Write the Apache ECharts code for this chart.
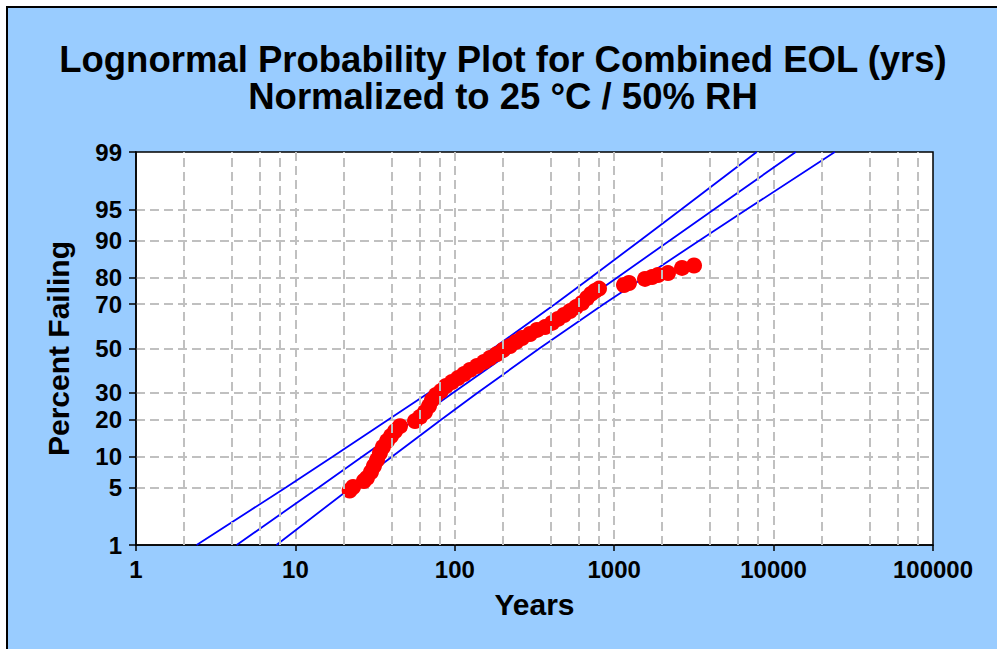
<!DOCTYPE html>
<html><head><meta charset="utf-8">
<script src="https://cdn.jsdelivr.net/npm/echarts@6/dist/echarts.min.js"></script>
<style>
html,body{margin:0;padding:0;background:#fff;width:997px;height:649px;overflow:hidden}
#frame{position:absolute;left:6px;top:6px;width:1000px;height:700px;background:#99CCFF;border:2px solid #000;}
#chart{position:absolute;left:0;top:0;width:997px;height:649px}
</style></head><body><div id="frame"></div><div id="chart"></div>
<script>
const TITLE_LINE1 = 'Lognormal Probability Plot for Combined EOL (yrs)';
const TITLE_LINE2 = 'Normalized to 25 °C / 50% RH';
const X_NAME = 'Years';
const Y_NAME = 'Percent Failing';
const X_MINOR = [2,4,6,8,20,40,60,80,200,400,600,800,2000,4000,6000,8000,20000,40000,60000,80000];
const Y_TICKS = [1,5,10,20,30,50,70,80,90,95,99];

// fitted line and confidence bounds, read at the percent grid levels
const LINE_PCT = [1,5,10,20,30,50,70,80,90,95,99];
const FIT_YEARS = [4.28,14.0,26.2,56.3,97.6,243,603,1046,2244,4219,13770];
const UPPER_YEARS = [2.40,8.71,17.1,38.4,68.7,174,424,714,1462,2630,7834];
const LOWER_YEARS = [7.60,22.4,40.3,82.4,139,339,857,1535,3443,6761,24210];

// observed failures
const FAIL_YEARS = [21.9,23.0,26.9,28.1,29.8,31.1,32.5,33.9,35.4,37.6,39.8,42.2,45.3,56.3,60.5,65.0,68.9,71.9,76.2,81.9,88.1,96.0,104.7,114.2,124.6,137.8,152.5,166.3,184.0,200.6,222.0,242.1,264.0,296.4,327.9,368.0,407.2,444.0,484.2,528.1,576.0,628.1,675.1,715.3,757.9,802.9,1152,1238,1561,1726,1883,2175,2663,3167];
const FAIL_PCT = [4.64,5.06,5.84,6.27,7.19,8.21,9.34,10.8,12.2,13.7,15.0,16.4,17.9,19.5,20.9,22.6,24.8,27.1,29.1,30.7,32.9,34.6,36.3,38.1,40.0,41.8,43.7,45.5,47.4,49.3,51.2,53.1,54.9,56.8,58.7,60.0,61.9,63.7,65.4,67.1,68.8,70.5,72.5,74.1,75.2,76.1,77.4,78.1,79.5,80.1,80.8,81.4,83.0,83.7];

// normal probability scale (inverse normal CDF, Acklam)
function probit(p){
  const a=[-3.969683028665376e+01,2.209460984245205e+02,-2.759285104469687e+02,1.383577518672690e+02,-3.066479806614716e+01,2.506628277459239e+00];
  const b=[-5.447609879822406e+01,1.615858368580409e+02,-1.556989798598866e+02,6.680131188771972e+01,-1.328068155288572e+01];
  const c=[-7.784894002430293e-03,-3.223964580411365e-01,-2.400758277161838e+00,-2.549671348874914e+00,4.374664141464968e+00,2.938163982698783e+00];
  const d=[7.784695709041462e-03,3.224671290700398e-01,2.445134137142996e+00,3.754408661907416e+00];
  const pl=0.02425, ph=1-pl; let q,r;
  if(p<pl){q=Math.sqrt(-2*Math.log(p));return (((((c[0]*q+c[1])*q+c[2])*q+c[3])*q+c[4])*q+c[5])/((((d[0]*q+d[1])*q+d[2])*q+d[3])*q+1);}
  if(p<=ph){q=p-0.5;r=q*q;return (((((a[0]*r+a[1])*r+a[2])*r+a[3])*r+a[4])*r+a[5])*q/(((((b[0]*r+b[1])*r+b[2])*r+b[3])*r+b[4])*r+1);}
  q=Math.sqrt(-2*Math.log(1-p));return -(((((c[0]*q+c[1])*q+c[2])*q+c[3])*q+c[4])*q+c[5])/((((d[0]*q+d[1])*q+d[2])*q+d[3])*q+1);
}
const zOf = pct => probit(pct/100);
const Y_TICK_Z = Y_TICKS.map(zOf);
const yLabel = v => { let bi=0, bd=1e9; Y_TICK_Z.forEach((z,i)=>{const dd=Math.abs(z-v); if(dd<bd){bd=dd;bi=i;}}); return String(Y_TICKS[bi]); };

const FONT = "'Liberation Sans', Arial, sans-serif";
const GRID_LINE = {color:'#C0C0C0', type:[9,5], width:2};

const chart = echarts.init(document.getElementById('chart'), null, {renderer:'svg'});
chart.setOption({
  backgroundColor:'transparent',
  animation:false,
  title:{
    text: TITLE_LINE1 + '\n' + TITLE_LINE2,
    left: 503, top: 41, padding: 0, textAlign:'center',
    textStyle:{fontFamily:FONT, fontSize:36.5, fontWeight:'bold', color:'#000', lineHeight:37}
  },
  grid:{left:136, top:152, width:797, height:393, show:true, backgroundColor:'#fff', borderColor:'#000', borderWidth:1.5, containLabel:false},
  xAxis:{
    type:'log', logBase:10, min:1, max:100000,
    name:X_NAME, nameLocation:'middle', nameGap:44,
    nameTextStyle:{fontFamily:FONT, fontSize:30, fontWeight:'bold', color:'#000'},
    axisLine:{onZero:false, lineStyle:{color:'#000', width:1.5}},
    axisTick:{show:true, length:6, lineStyle:{color:'#000', width:1.5}},
    axisLabel:{margin:12, fontFamily:FONT, fontSize:24, fontWeight:'bold', color:'#000', formatter:v=>String(Math.round(v))},
    splitLine:{show:true, showMinLine:false, showMaxLine:false, lineStyle:GRID_LINE},
    minorTick:{show:false}, minorSplitLine:{show:false}
  },
  yAxis:{
    type:'value', min:zOf(1), max:zOf(99),
    name:Y_NAME, nameLocation:'middle', nameGap:63, nameRotate:90,
    nameTextStyle:{fontFamily:FONT, fontSize:30, fontWeight:'bold', color:'#000'},
    axisLine:{show:true, onZero:false, lineStyle:{color:'#000', width:1.5}},
    axisTick:{show:true, length:7, customValues:Y_TICK_Z, lineStyle:{color:'#000', width:1.5}},
    axisLabel:{margin:14, customValues:Y_TICK_Z, fontFamily:FONT, fontSize:24, fontWeight:'bold', color:'#000', formatter:yLabel},
    splitLine:{show:true, showMinLine:false, showMaxLine:false, lineStyle:GRID_LINE}
  },
  series:[
    {type:'line', name:'grid', data:[], z:1, silent:true,
     markLine:{silent:true, symbol:['none','none'], label:{show:false}, lineStyle:GRID_LINE, animation:false,
       emphasis:{disabled:true}, data:X_MINOR.map(v=>({xAxis:v}))}},
    {type:'line', name:'Upper bound', data:LINE_PCT.map((p,i)=>[UPPER_YEARS[i], zOf(p)]), showSymbol:false, symbol:'none', z:3,
     lineStyle:{color:'#0000FF', width:1.8}},
    {type:'line', name:'Fit', data:LINE_PCT.map((p,i)=>[FIT_YEARS[i], zOf(p)]), showSymbol:false, symbol:'none', z:3,
     lineStyle:{color:'#0000FF', width:1.8}},
    {type:'line', name:'Lower bound', data:LINE_PCT.map((p,i)=>[LOWER_YEARS[i], zOf(p)]), showSymbol:false, symbol:'none', z:3,
     lineStyle:{color:'#0000FF', width:1.8}},
    {type:'scatter', name:'Failures', data:FAIL_YEARS.map((x,i)=>[x, zOf(FAIL_PCT[i])]), symbolSize:16, z:4,
     itemStyle:{color:'#FF0000', opacity:1}}
  ]
});
</script></body></html>
